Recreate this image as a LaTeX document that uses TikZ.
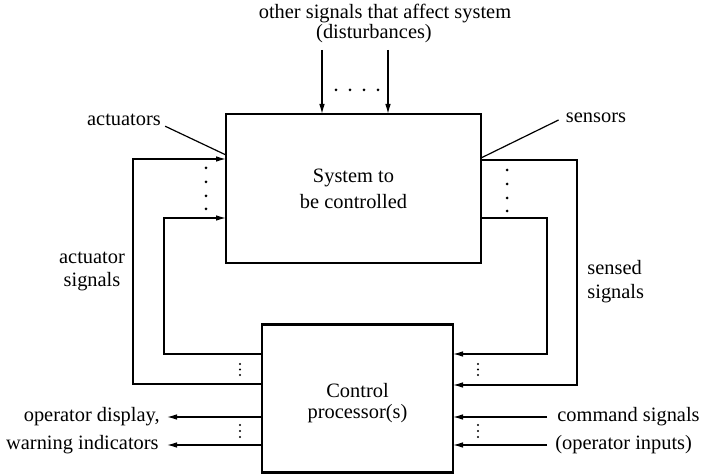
\documentclass[tikz,border=0pt]{standalone}
\usepackage{fontspec}
\setmainfont{Liberation Serif}
\usetikzlibrary{arrows.meta}
\begin{document}
\begin{tikzpicture}[x=0.5pt,y=-0.5pt,
  box/.style={draw, line width=1.2pt, inner sep=0pt, outer sep=0pt, align=center},
  lbl/.style={inner sep=0pt, font=\fontsize{10.2}{11.5}\selectfont},
  wire/.style={line width=0.6pt},
  arr/.style={wire, -{Latex[length=5pt,width=2.8pt]}}]
\useasboundingbox (0,0) rectangle (707,475);

% boxes
\node[box, minimum width=127.5pt, minimum height=74.5pt, font=\fontsize{10.2}{13}\selectfont] (sys) at (353.5,188.5) {System to\\be controlled};
\node[box, minimum width=95.5pt, minimum height=74pt] (ctrl) at (357.5,398.5) {};
\node[lbl, align=center, font=\fontsize{10.2}{10.5}\selectfont] (ctrltxt) at ([yshift=-2.5pt]ctrl.center) {Control\\processor(s)};

% disturbances
\node[lbl] (dtop) at (385,14) {other signals that affect system};
\node[lbl] (dbot) at (374,34) {(disturbances)};
\coordinate (d1) at (322,50);
\coordinate (d2) at (388,50);
\draw[arr] (d1) -- (d1 |- sys.north);
\draw[arr] (d2) -- (d2 |- sys.north);
\foreach \x in {336,350,364,378} \fill (\x,90) circle[radius=0.75pt];

% actuators
\node[lbl] (actl) at (124,120) {actuators};
\coordinate (acty) at (0,155);
\draw[wire] ([xshift=2pt]actl.south east) -- (sys.west |- acty);
\coordinate (ao1) at (133,384);
\coordinate (ao2) at (133,159);
\draw[arr] (ctrl.west |- ao1) -- (ao1) -- (ao2) -- (sys.west |- ao2);
\coordinate (ai1) at (164,354);
\coordinate (ai2) at (164,218);
\draw[arr] (ctrl.west |- ai1) -- (ai1) -- (ai2) -- (sys.west |- ai2);
\foreach \y in {168,182,196,209} \fill (206,\y) circle[radius=0.75pt];
\node[lbl, align=center] (asig) at (92,271) {actuator\\signals};

% sensors
\node[lbl] (senl) at (596,118) {sensors};
\coordinate (sensy) at (0,158);
\draw[wire] ([xshift=-3.5pt,yshift=-1pt]senl.west) -- (sys.east |- sensy);
\coordinate (so1) at (577,160);
\coordinate (so2) at (577,385);
\draw[arr] (sys.east |- so1) -- (so1) -- (so2) -- (ctrl.east |- so2);
\coordinate (si1) at (547,218);
\coordinate (si2) at (547,354);
\draw[arr] (sys.east |- si1) -- (si1) -- (si2) -- (ctrl.east |- si2);
\foreach \y in {170,184,198,211} \fill (507,\y) circle[radius=0.75pt];
\node[lbl, align=left, anchor=west, font=\fontsize{10.2}{12}\selectfont] (ssig) at (587,282) {sensed\\signals};

% small ellipses near control box
\foreach \y in {364,369.5,375,425,431,437} {
  \fill (240,\y) circle[radius=0.6pt];
  \fill (478,\y) circle[radius=0.6pt];
}

% operator outputs
\node[lbl, anchor=east] (od) at (160,417) {operator display,};
\node[lbl, anchor=east] (wi) at (159,445) {warning indicators};
\draw[arr] (ctrl.west |- od.east) -- ([xshift=3.5pt]od.east);
\draw[arr] (ctrl.west |- wi.east) -- ([xshift=4pt]wi.east);

% command inputs
\node[lbl, anchor=west] (cs) at (557,417) {command signals};
\node[lbl, anchor=west] (oi) at (555,445) {(operator inputs)};
\draw[arr] ([xshift=-5pt]cs.west) -- (ctrl.east |- cs.west);
\draw[arr] ([xshift=-4pt]oi.west) -- (ctrl.east |- oi.west);
\end{tikzpicture}
\end{document}
